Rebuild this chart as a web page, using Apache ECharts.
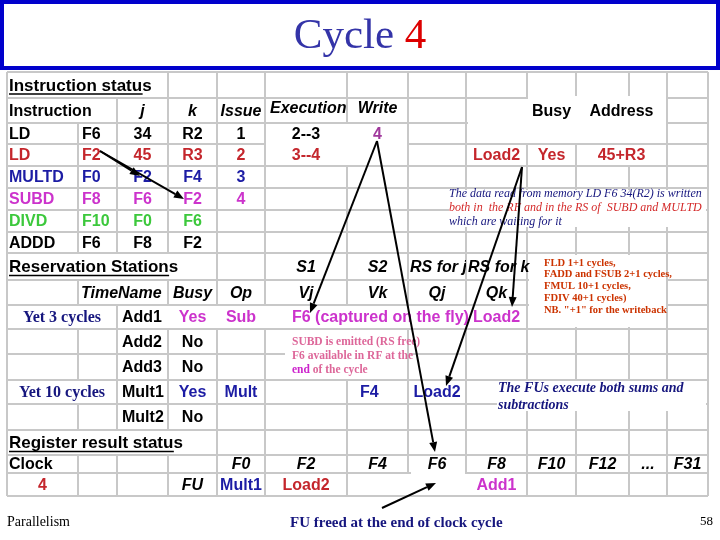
<!DOCTYPE html>
<html>
<head>
<meta charset="utf-8">
<title>Cycle 4</title>
<script src="https://cdn.jsdelivr.net/npm/echarts@6/dist/echarts.min.js"></script>
<style>
  html, body { margin: 0; padding: 0; background: #fff; }
  #main { width: 720px; height: 540px; }
</style>
</head>
<body>
<div id="main"></div>
<script>
// Tomasulo state at clock cycle 4
var clockCycle = 4;

// instruction status
var instrHeads = ['j', 'k', 'Issue', 'Execution', 'Write'];
var instrOp = ['LD', 'LD', 'MULTD', 'SUBD', 'DIVD', 'ADDD'];
var instrDest = ['F6', 'F2', 'F0', 'F8', 'F10', 'F6'];
var instrJ = ['34', '45', 'F2', 'F6', 'F0', 'F8'];
var instrK = ['R2', 'R3', 'F4', 'F2', 'F6', 'F2'];
var instrIssue = ['1', '2', '3', '4', '', ''];
var instrExec = ['2--3', '3--4', '', '', '', ''];
var instrWrite = ['4', '', '', '', '', ''];

// load buffer
var loadHeads = ['Busy', 'Address'];
var loadName = 'Load2';
var loadBusy = 'Yes';
var loadAddr = '45+R3';

// reservation stations
var rsHeads = ['Busy', 'Op', 'Vj', 'Vk', 'Qj', 'Qk'];
var rsTime = ['Yet 3 cycles', '', '', 'Yet 10 cycles', ''];
var rsName = ['Add1', 'Add2', 'Add3', 'Mult1', 'Mult2'];
var rsBusy = ['Yes', 'No', 'No', 'Yes', 'No'];
var rsOp = ['Sub', '', '', 'Mult', ''];
var rsVj = ['F6 (captured on the fly)', '', '', '', ''];
var rsVk = ['', '', '', 'F4', ''];
var rsQj = ['', '', '', 'Load2', ''];
var rsQk = ['Load2', '', '', '', ''];

// register result status
var regNames = ['F0', 'F2', 'F4', 'F6', 'F8', 'F10', 'F12', '...', 'F31'];
var regFU = ['Mult1', 'Load2', '', '', 'Add1', '', '', '', ''];

// notes on the slide
var noteDataRead = ['The data read from memory LD F6 34(R2) is written',
  'both in  the RF and in the RS of  SUBD and MULTD', 'which are waiting for it'];
var noteLatency = ['FLD 1+1 cycles,', 'FADD and FSUB 2+1 cycles,', 'FMUL 10+1 cycles,',
  'FDIV 40+1 cycles)', 'NB. "+1" for the writeback'];
var noteSubd = ['SUBD is emitted (RS free)', 'F6 available in RF at the', '{m|end} of the cycle'];
var noteFus = ['The FUs execute both sums and', 'subtractions'];
var noteFreed = 'FU freed at the end of clock cycle';

// ---- layout ----
var colEdges = [7, 78, 117, 168, 217, 265, 347, 408, 466, 527, 576, 629, 667, 708];
var rowEdges = [72, 98, 123, 144, 166, 188, 210, 232, 253, 280, 305, 329, 354, 380, 404, 430, 455, 473, 496];

var SANS = '"Liberation Sans", Arial, sans-serif';
var SERIF = '"Liberation Serif", "Times New Roman", serif';
var BOLD = 'bold 16px ' + SANS;
var ITAL = 'italic bold 16px ' + SANS;
var HEAD = 'bold 17px ' + SANS;
var RED = '#c4262c', BLUE = '#1c1ca4', MAGENTA = '#cc33cc', GREEN = '#3cc83c', NAVY = '#16167e';
var instrColors = ['#000', RED, BLUE, MAGENTA, GREEN, '#000'];
var rsColors = [MAGENTA, '#000', '#000', BLUE, '#000'];
var regColors = [BLUE, RED, '#000', '#000', MAGENTA, '#000', '#000', '#000', '#000'];

function colMid(c, c2) {
  if (c2 === undefined) c2 = c;
  return (colEdges[c] + colEdges[c2 + 1]) / 2;
}
function rowMid(r) {
  return (rowEdges[r] + rowEdges[r + 1]) / 2 + 1;
}

var cells = [];
function addCell(r, x, text, o) {
  if (!text) return;
  o = o || {};
  cells.push({
    x: x, y: o.y !== undefined ? o.y : rowMid(r), text: text,
    color: o.color || '#000', align: o.align || 'center', font: o.font || BOLD,
    clip: o.clip, underline: o.underline
  });
}

// instruction status
addCell(0, 9, 'Instruction status', { align: 'left', font: HEAD, underline: true });
addCell(1, 9, 'Instruction', { align: 'left' });
addCell(1, colMid(2), instrHeads[0], { font: ITAL });
addCell(1, colMid(3), instrHeads[1], { font: ITAL });
addCell(1, colMid(4), instrHeads[2], { font: ITAL });
addCell(1, colEdges[5] + 5, instrHeads[3], { font: ITAL, align: 'left', y: rowMid(1) - 3, clip: colEdges[6] });
addCell(1, colMid(6), instrHeads[4], { font: ITAL, y: rowMid(1) - 3 });
addCell(1, colMid(9), loadHeads[0]);
addCell(1, colMid(10, 11), loadHeads[1]);
instrOp.forEach(function (op, i) {
  var r = 2 + i, color = instrColors[i];
  addCell(r, 9, op, { align: 'left', color: color });
  addCell(r, colEdges[1] + 4, instrDest[i], { align: 'left', color: color });
  addCell(r, colMid(2), instrJ[i], { color: color });
  addCell(r, colMid(3), instrK[i], { color: color });
  addCell(r, colMid(4), instrIssue[i], { color: color });
  addCell(r, colMid(5), instrExec[i], { color: color });
  addCell(r, colMid(6), instrWrite[i], { color: '#a0389c' });
});
addCell(3, colMid(8), loadName, { color: RED });
addCell(3, colMid(9), loadBusy, { color: RED });
addCell(3, colMid(10, 11), loadAddr, { color: RED });

// reservation stations
addCell(8, 9, 'Reservation Stations', { align: 'left', font: HEAD, underline: true });
addCell(8, colMid(5), 'S1', { font: ITAL });
addCell(8, colMid(6), 'S2', { font: ITAL });
addCell(8, colEdges[7] + 2, 'RS for j', { font: ITAL, align: 'left', clip: colEdges[8] });
addCell(8, colEdges[8] + 2, 'RS for k', { font: ITAL, align: 'left' });
addCell(9, colEdges[1] + 3, 'Time', { font: ITAL, align: 'left' });
addCell(9, colEdges[2] + 1, 'Name', { font: ITAL, align: 'left' });
rsHeads.forEach(function (h, i) { addCell(9, colMid(3 + i), h, { font: ITAL }); });
rsName.forEach(function (n, i) {
  var r = 10 + i, color = rsColors[i];
  addCell(r, colMid(0, 1), rsTime[i], { font: 'bold 16px ' + SERIF, color: NAVY });
  addCell(r, colEdges[2] + 5, n, { align: 'left' });
  addCell(r, colMid(3), rsBusy[i], { color: color });
  addCell(r, colMid(4), rsOp[i], { color: color });
  addCell(r, colEdges[5] + 27, rsVj[i], { align: 'left', color: color });
  addCell(r, colEdges[6] + 13, rsVk[i], { align: 'left', color: color });
  addCell(r, colMid(7), rsQj[i], { color: color });
  addCell(r, colMid(8), rsQk[i], { color: color });
});

// register result status
addCell(15, 9, 'Register result status', { align: 'left', font: HEAD, underline: true });
addCell(16, 9, 'Clock', { align: 'left' });
addCell(17, colMid(0), String(clockCycle), { color: RED });
addCell(17, colMid(3), 'FU', { font: ITAL });
regNames.forEach(function (n, i) {
  addCell(16, colMid(4 + i), n, { font: ITAL });
  addCell(17, colMid(4 + i), regFU[i], { color: regColors[i] });
});

// grid lines
var gridLines = [];
colEdges.forEach(function (x) { gridLines.push([x, rowEdges[0], x, rowEdges[rowEdges.length - 1]]); });
rowEdges.forEach(function (y) { gridLines.push([colEdges[0], y, colEdges[colEdges.length - 1], y]); });

// blank patches where the sheet hides its borders
var masks = [
  [8, 73, 167, 97], [8, 99, 116, 122], [266, 124, 407, 165],
  [468, 99, 666, 143], [528, 96, 666, 99], [578, 145, 666, 165],
  [449, 190, 706, 227], [529, 255, 666, 327],
  [8, 254, 216, 279], [79, 281, 167, 304],
  [8, 306, 116, 328], [118, 306, 526, 328], [285, 330, 407, 379],
  [8, 381, 116, 403], [497, 381, 706, 411],
  [8, 431, 216, 454], [348, 474, 526, 495], [411, 466, 465, 478]
];

// arrows [from x, from y, to x, to y]
var arrows = [
  [100, 151, 140, 176], [100, 151, 184, 199],
  [377, 141, 310, 313], [377, 141, 435, 452],
  [522, 167, 512, 307], [522, 167, 446, 386],
  [382, 508, 436, 483]
];

var measureCtx = document.createElement('canvas').getContext('2d');
function textWidth(text, font) {
  measureCtx.font = font;
  return measureCtx.measureText(text).width;
}

var myChart = echarts.init(document.getElementById('main'), null, { renderer: 'canvas' });

function noteText(x, y, text, font, color, extra) {
  var st = { text: text, font: font, fill: color, align: 'left', verticalAlign: 'middle' };
  if (extra) Object.keys(extra).forEach(function (k) { st[k] = extra[k]; });
  return { type: 'text', x: x, y: y, z: 20, silent: true, style: st };
}

var graphics = [
  { type: 'rect', z: 5, shape: { x: 2, y: 2, width: 716, height: 66 },
    style: { fill: '#fff', stroke: '#0000cc', lineWidth: 4 } },
  { type: 'text', z: 6, x: 360, y: 37,
    style: {
      text: '{b|Cycle }{r|' + clockCycle + '}', align: 'center', verticalAlign: 'middle',
      rich: {
        b: { font: '43px ' + SERIF, fill: '#3434a8' },
        r: { font: '43px ' + SERIF, fill: '#dd0000' }
      }
    } }
];
noteDataRead.forEach(function (t, i) {
  graphics.push(noteText(449, 194 + i * 14, t, 'italic 12px ' + SERIF, i === 1 ? '#d42a2a' : NAVY));
});
noteLatency.forEach(function (t, i) {
  graphics.push(noteText(544, 263 + i * 11.7, t, 'bold 10.5px ' + SERIF, '#cc3300'));
});
noteSubd.forEach(function (t, i) {
  graphics.push(noteText(292, 342 + i * 14, t, 'bold 11.5px ' + SERIF, '#dd6699',
    { rich: { m: { font: 'bold 11.5px ' + SERIF, fill: '#cc22cc' } } }));
});
noteFus.forEach(function (t, i) {
  graphics.push(noteText(498, 388 + i * 17, t, 'italic bold 14px ' + SERIF, NAVY));
});
graphics.push(noteText(290, 523, noteFreed, 'bold 15px ' + SERIF, NAVY));
graphics.push(noteText(7, 522, 'Parallelism', '14px ' + SERIF, '#000'));
graphics.push(noteText(713, 522, '58', '13px ' + SERIF, '#000', { align: 'right' }));

var option = {
  animation: false,
  backgroundColor: '#fff',
  grid: { left: 0, right: 0, top: 0, bottom: 0 },
  xAxis: { type: 'value', min: 0, max: 720, show: false },
  yAxis: { type: 'value', min: 0, max: 540, inverse: true, show: false },
  graphic: graphics,
  series: [
    {
      name: 'grid', type: 'custom', silent: true, z: 1,
      data: gridLines,
      renderItem: function (params, api) {
        var a = api.coord([api.value(0), api.value(1)]);
        var b = api.coord([api.value(2), api.value(3)]);
        return { type: 'line', shape: { x1: a[0], y1: a[1], x2: b[0], y2: b[1] },
          style: { stroke: '#c8c8c8', lineWidth: 2 } };
      }
    },
    {
      name: 'masks', type: 'custom', silent: true, z: 2,
      data: masks,
      renderItem: function (params, api) {
        var a = api.coord([api.value(0), api.value(1)]);
        var b = api.coord([api.value(2), api.value(3)]);
        return { type: 'rect', shape: { x: a[0], y: a[1], width: b[0] - a[0], height: b[1] - a[1] },
          style: { fill: '#fff' } };
      }
    },
    {
      name: 'cells', type: 'custom', silent: true, z: 3,
      data: cells.map(function (c) { return [c.x, c.y]; }),
      renderItem: function (params, api) {
        var c = cells[params.dataIndex];
        var p = api.coord([api.value(0), api.value(1)]);
        var children = [{
          type: 'text', x: p[0], y: p[1],
          style: { text: c.text, fill: c.color, font: c.font, align: c.align, verticalAlign: 'middle',
            textAlign: c.align, textVerticalAlign: 'middle' }
        }];
        if (c.underline) {
          var w = textWidth(c.text, c.font);
          children.push({ type: 'line', shape: { x1: p[0], y1: p[1] + 8, x2: p[0] + w - 9, y2: p[1] + 8 },
            style: { stroke: c.color, lineWidth: 1.6 } });
        }
        var g = { type: 'group', children: children };
        if (c.clip) {
          var q = api.coord([c.clip, 0]);
          g.clipPath = { type: 'rect', shape: { x: 0, y: 0, width: q[0], height: 540 } };
        }
        return g;
      }
    },
    {
      name: 'arrows', type: 'custom', silent: true, z: 30,
      data: arrows,
      renderItem: function (params, api) {
        var a = api.coord([api.value(0), api.value(1)]);
        var b = api.coord([api.value(2), api.value(3)]);
        var ang = Math.atan2(b[1] - a[1], b[0] - a[0]);
        var L = 10, W = 4;
        var bx = b[0] - L * Math.cos(ang), by = b[1] - L * Math.sin(ang);
        return { type: 'group', children: [
          { type: 'line', shape: { x1: a[0], y1: a[1], x2: bx, y2: by }, style: { stroke: '#000', lineWidth: 2 } },
          { type: 'polygon', shape: { points: [[b[0], b[1]],
              [bx - W * Math.sin(ang), by + W * Math.cos(ang)],
              [bx + W * Math.sin(ang), by - W * Math.cos(ang)]] },
            style: { fill: '#000' } }
        ] };
      }
    }
  ]
};
myChart.setOption(option);
</script>
</body>
</html>
